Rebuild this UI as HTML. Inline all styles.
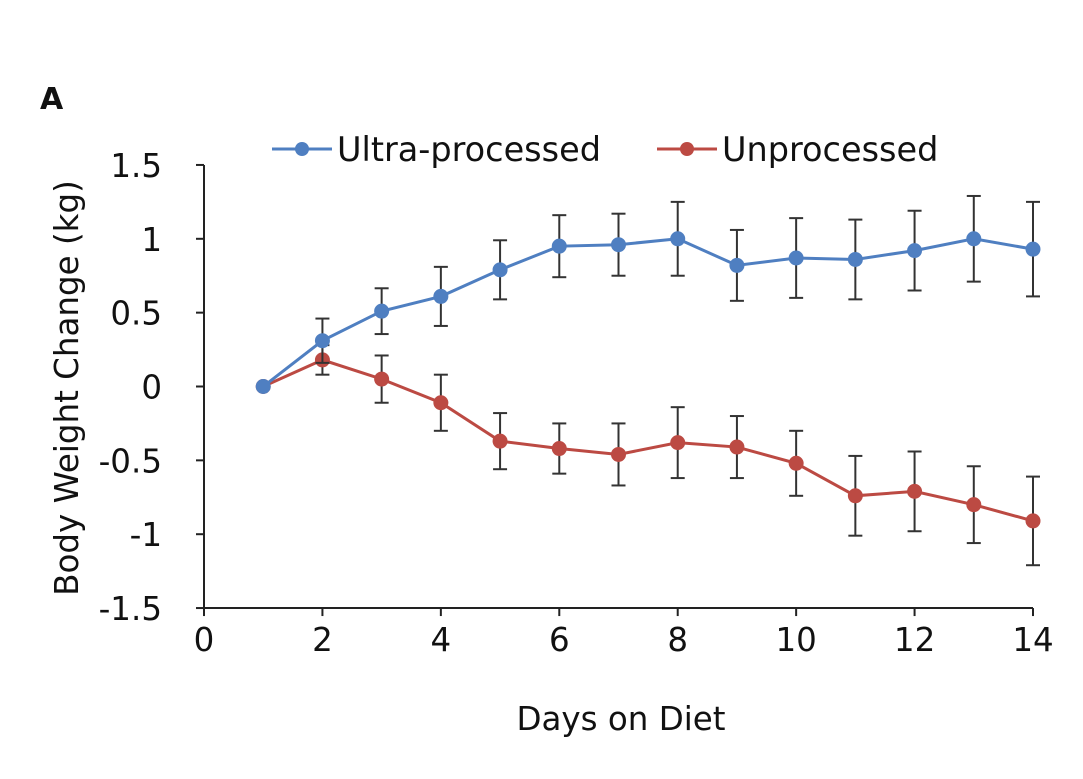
<!DOCTYPE html>
<html><head><meta charset="utf-8"><style>
body{margin:0;background:#fff;}
svg text{font-family:"DejaVu Sans","Liberation Sans",sans-serif;fill:#111;}
</style></head><body>
<svg id="chart" width="1083" height="774" viewBox="0 0 1083 774">
<text x="40" y="109" font-size="30" font-weight="bold">A</text>
<g id="axes"></g>
<g id="series"></g>
<g>
 <g>
  <line x1="272" y1="149" x2="332" y2="149" stroke="#4f7fc1" stroke-width="3"/>
  <circle cx="302" cy="149" r="7" fill="#4f7fc1"/>
  <text x="337" y="161" font-size="33.5">Ultra-processed</text>
 </g>
 <g>
  <line x1="657" y1="149" x2="717" y2="149" stroke="#bc4a43" stroke-width="3"/>
  <circle cx="687" cy="149" r="7" fill="#bc4a43"/>
  <text x="722" y="161" font-size="33.5">Unprocessed</text>
 </g>
</g>
<text x="621" y="730" font-size="32.5" text-anchor="middle">Days on Diet</text>
<text transform="translate(78,388) rotate(-90)" font-size="32.5" text-anchor="middle">Body Weight Change (kg)</text>
</svg>
<script>
const days=[1,2,3,4,5,6,7,8,9,10,11,12,13,14];
const ultraVals=[0,0.31,0.51,0.61,0.79,0.95,0.96,1.0,0.82,0.87,0.86,0.92,1.0,0.93];
const ultraErr=[0,0.15,0.155,0.2,0.2,0.21,0.21,0.25,0.24,0.27,0.27,0.27,0.29,0.32];
const unprocVals=[0,0.18,0.05,-0.11,-0.37,-0.42,-0.46,-0.38,-0.41,-0.52,-0.74,-0.71,-0.8,-0.91];
const unprocErr=[0,0.1,0.16,0.19,0.19,0.17,0.21,0.24,0.21,0.22,0.27,0.27,0.26,0.3];
const xTicks=[0,2,4,6,8,10,12,14];
const yTicks=[1.5,1,0.5,0,-0.5,-1,-1.5];
const yTickLabels=["1.5","1","0.5","0","-0.5","-1","-1.5"];
const NS="http://www.w3.org/2000/svg";
const X=d=>204+d*(1033-204)/14;
const Y=v=>386.5-v*147.7;
function mk(tag,attrs,parent){const e=document.createElementNS(NS,tag);for(const k in attrs)e.setAttribute(k,attrs[k]);parent.appendChild(e);return e;}
const ax=document.getElementById('axes');
let l=mk('line',{x1:204,y1:Y(1.5),x2:204,y2:Y(-1.5),stroke:'#222','stroke-width':2},ax);


l=mk('line',{x1:204,y1:Y(-1.5),x2:X(14),y2:Y(-1.5),stroke:'#222','stroke-width':2},ax);


yTicks.forEach((v,i)=>{
 mk('line',{x1:196,y1:Y(v),x2:204,y2:Y(v),stroke:'#222','stroke-width':2},ax);
 const t=mk('text',{x:162,y:Y(v)+12,'font-size':32.5,'text-anchor':'end'},ax);
 t.textContent=yTickLabels[i];
 
 
});
xTicks.forEach(d=>{
 mk('line',{x1:X(d),y1:Y(-1.5),x2:X(d),y2:Y(-1.5)+8,stroke:'#222','stroke-width':2},ax);
 const t=mk('text',{x:X(d),y:Y(-1.5)+43,'font-size':32.5,'text-anchor':'middle'},ax);
 t.textContent=d;
 
 
});
const sg=document.getElementById('series');
function series(vals,errs,color,name){
 const g=mk('g',{},sg);
 
 
 days.forEach((d,i)=>{
  if(errs[i]>0){
   const x=X(d);
   mk('line',{x1:x,y1:Y(vals[i]+errs[i]),x2:x,y2:Y(vals[i]-errs[i]),stroke:'#333','stroke-width':2},g);
   mk('line',{x1:x-7,y1:Y(vals[i]+errs[i]),x2:x+7,y2:Y(vals[i]+errs[i]),stroke:'#333','stroke-width':2},g);
   mk('line',{x1:x-7,y1:Y(vals[i]-errs[i]),x2:x+7,y2:Y(vals[i]-errs[i]),stroke:'#333','stroke-width':2},g);
  }
 });
 const p=mk('polyline',{points:days.map((d,i)=>X(d)+','+Y(vals[i])).join(' '),fill:'none',stroke:color,'stroke-width':3},g);
 
 
 days.forEach((d,i)=>{
  const c=mk('circle',{cx:X(d),cy:Y(vals[i]),r:7.5,fill:color},g);
  
  
 });
}
series(unprocVals,unprocErr,'#bc4a43','unprocessed');
series(ultraVals,ultraErr,'#4f7fc1','ultra-processed');
</script>
</body></html>
